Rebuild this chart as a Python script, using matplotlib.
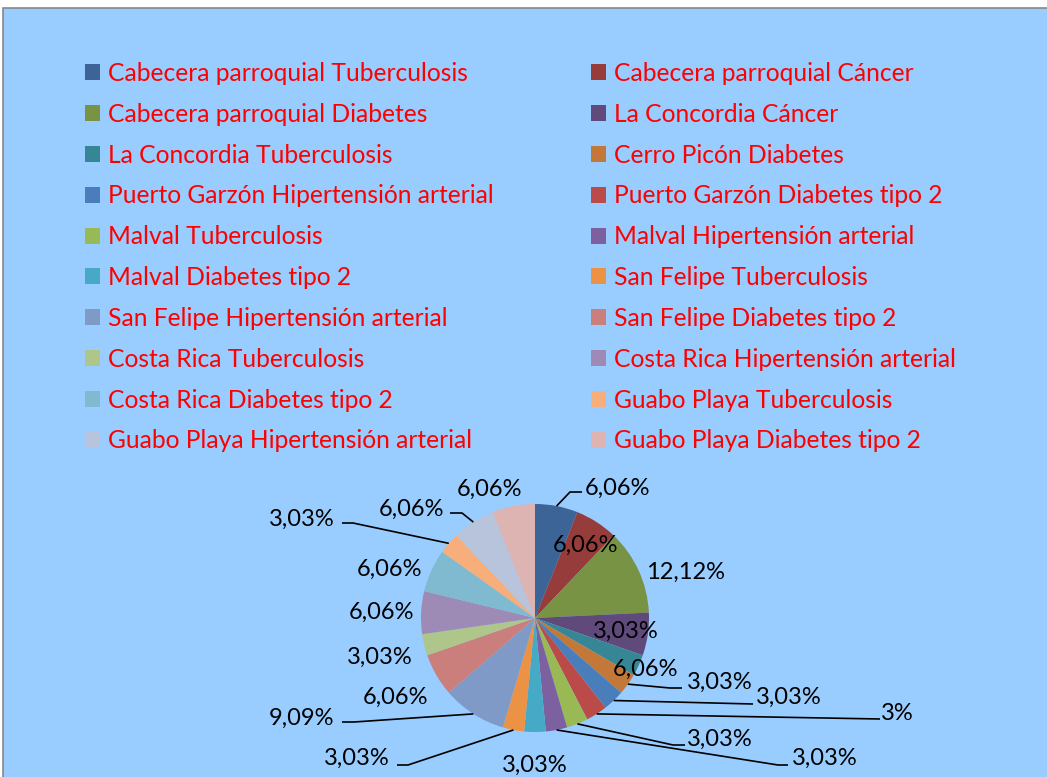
import numpy as np
import matplotlib.pyplot as plt
from matplotlib.patches import Patch, Rectangle

plt.rcParams['font.family'] = ['Lato', 'DejaVu Sans']

categorias = ['Cabecera parroquial Tuberculosis', 'Cabecera parroquial Cáncer',
              'Cabecera parroquial Diabetes', 'La Concordia Cáncer',
              'La Concordia Tuberculosis', 'Cerro Picón Diabetes',
              'Puerto Garzón Hipertensión arterial', 'Puerto Garzón Diabetes tipo 2',
              'Malval Tuberculosis', 'Malval Hipertensión arterial',
              'Malval Diabetes tipo 2', 'San Felipe Tuberculosis',
              'San Felipe Hipertensión arterial', 'San Felipe Diabetes tipo 2',
              'Costa Rica Tuberculosis', 'Costa Rica Hipertensión arterial',
              'Costa Rica Diabetes tipo 2', 'Guabo Playa Tuberculosis',
              'Guabo Playa Hipertensión arterial', 'Guabo Playa Diabetes tipo 2']
casos = [2, 2, 4, 2, 1, 1, 1, 1, 1, 1, 1, 1, 3, 2, 1, 2, 2, 1, 2, 2]
etiquetas = ['6,06%', '6,06%', '12,12%', '3,03%', '6,06%', '3,03%', '3,03%', '3%',
             '3,03%', '3,03%', '3,03%', '3,03%', '9,09%', '6,06%', '3,03%', '6,06%',
             '6,06%', '3,03%', '6,06%', '6,06%']
colores = ['#3C6496', '#963C3A', '#789344', '#604A7B', '#378695', '#C3783A',
           '#4A7EBB', '#BB4B48', '#98B954', '#7D60A0', '#46A9C5', '#EB9244',
           '#7F9AC6', '#CB7F7D', '#AEC68A', '#9D8BB6', '#7FBAD0', '#F8AE7B',
           '#B8C4DC', '#DEB4B3']

W, H = 1047, 777
# label layout (pixel positions, y from top)
pos_etq = [(617, 488), (586, 545), (686, 572), (626, 631), (646, 669), (720, 682),
           (789, 697), (897, 713), (720, 739), (825, 758), (535, 765), (357, 758),
           (302, 718), (395, 697), (380, 657), (381, 612), (389, 569), (302, 519),
           (411, 509), (489, 489)]
guias = {0: [(570, 492), (582, 492)], 5: [(670, 688), (682, 688)], 6: [(753, 704)],
         7: [(880, 719)], 8: [(673, 745), (685, 745)], 9: [(778, 765), (788, 765)],
         11: [(408, 765), (397, 765)], 12: [(354, 722), (342, 722)],
         17: [(353, 523), (342, 523)], 18: [(462, 513), (450, 513)]}
cx, cy, r = 535, 618, 114

fig = plt.figure(figsize=(W / 100, H / 100), dpi=100)
fig.patch.set_facecolor('white')
fig.patches.append(Rectangle((3 / W, -0.05), 1.1, 1.05 - 8 / H, transform=fig.transFigure,
                             facecolor='#99CCFF', edgecolor='#878787', linewidth=1.2,
                             zorder=-10))

ax = fig.add_axes([0, 0, 1, 1])
ax.set_facecolor('none')
wedges, _ = ax.pie(casos, colors=colores, startangle=90, counterclock=False,
                   center=(cx, H - cy), radius=r, wedgeprops=dict(linewidth=0))
ax.set_xlim(0, W)
ax.set_ylim(0, H)
ax.set_aspect('auto')
ax.axis('off')

for i, w in enumerate(wedges):
    tx, ty = pos_etq[i]
    ax.text(tx, H - ty, etiquetas[i], ha='center', va='center', fontsize=17, color='black')
    if i in guias:
        ang = np.deg2rad((w.theta1 + w.theta2) / 2)
        px = [cx + r * np.cos(ang)] + [p[0] for p in guias[i]]
        py = [H - cy + r * np.sin(ang)] + [H - p[1] for p in guias[i]]
        ax.plot(px, py, color='black', linewidth=1.2, solid_capstyle='butt')

izq = [Patch(facecolor=colores[i]) for i in range(0, 20, 2)]
der = [Patch(facecolor=colores[i]) for i in range(1, 20, 2)]
for hs, idx, x0 in [(izq, range(0, 20, 2), 85), (der, range(1, 20, 2), 591)]:
    leg = fig.legend(hs, [categorias[i] for i in idx], loc='upper left',
                     bbox_to_anchor=(x0 / W, 1 - 62 / H), frameon=False,
                     fontsize=17.7, handlelength=0.62, handleheight=0.62,
                     handletextpad=0.3, labelspacing=0.725, borderpad=0, borderaxespad=0)
    for t in leg.get_texts():
        t.set_color('#FF0000')

fig.savefig('out.png', dpi=100, facecolor=fig.get_facecolor())
